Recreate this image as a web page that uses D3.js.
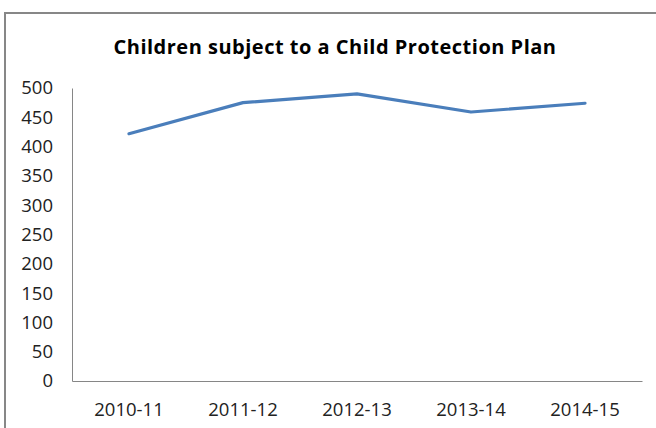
<!DOCTYPE html>
<html>
<head>
<meta charset="utf-8">
<script src="https://cdn.jsdelivr.net/npm/d3@7"></script>
<style>
  body { margin: 0; background: #fff; }
  text { font-family: "Open Sans", "Noto Sans", sans-serif; fill: #222; }
</style>
</head>
<body>
<div id="chart"></div>
<script>
var years = ["2010-11", "2011-12", "2012-13", "2013-14", "2014-15"];
var children = [422, 475, 490, 459, 474];
var yTicks = [0, 50, 100, 150, 200, 250, 300, 350, 400, 450, 500];

var W = 656, H = 428;
var margin = { top: 88, right: 14, bottom: 47, left: 72 };
var width = W - margin.left - margin.right,
    height = H - margin.top - margin.bottom;

var svg = d3.select("#chart").append("svg")
            .attr("width", W)
            .attr("height", H);

// chart frame (right and bottom edges fall outside the picture)
svg.append("rect")
   .attr("x", 5).attr("y", 13)
   .attr("width", W + 20).attr("height", H + 20)
   .attr("fill", "none")
   .attr("stroke", "#878787")
   .attr("stroke-width", 2);

svg.append("text")
   .attr("x", 335)
   .attr("y", 54)
   .attr("text-anchor", "middle")
   .style("font-size", "20px")
   .style("font-weight", "bold")
   .style("letter-spacing", "0.5px")
   .style("fill", "#000")
   .text("Children subject to a Child Protection Plan");

var g = svg.append("g")
           .attr("transform", "translate(" + margin.left + "," + margin.top + ")");

// SCALES
var x = d3.scaleBand().domain(years).range([0, width]);
var y = d3.scaleLinear().domain([0, 500]).range([height, 0]);

var yAxis = d3.axisLeft(y).tickValues(yTicks).tickSize(0).tickPadding(19);
var xAxis = d3.axisBottom(x).tickSize(0).tickPadding(22);

var gY = g.append("g").call(yAxis);
gY.select(".domain").attr("stroke", "#868686");
gY.selectAll("text").style("font-size", "18.5px").attr("fill", "#222");

var gX = g.append("g")
          .attr("transform", "translate(0," + height + ")")
          .call(xAxis);
gX.select(".domain").attr("stroke", "#868686");
gX.selectAll("text").style("font-size", "18.5px").attr("fill", "#222");

var line = d3.line()
             .x(function(d, i) { return x(years[i]) + x.bandwidth() / 2; })
             .y(function(d) { return y(d); });

g.append("path")
 .datum(children)
 .attr("d", line)
 .attr("fill", "none")
 .attr("stroke", "#4A7EBB")
 .attr("stroke-width", 3.2)
 .attr("stroke-linejoin", "round")
 .attr("stroke-linecap", "round");
</script>
</body>
</html>
